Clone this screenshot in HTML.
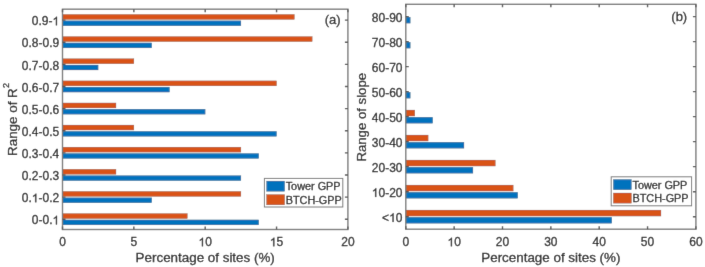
<!DOCTYPE html>
<html><head><meta charset="utf-8"><style>
html,body{margin:0;padding:0;background:#fff;}
svg{display:block;}
text{font-family:"Liberation Sans",sans-serif;fill:#262626;stroke:#262626;stroke-width:0.3px;}
.o1{fill-opacity:0;stroke-opacity:0;}
.g1{fill:#262626;stroke:#262626;stroke-width:0.3px;vector-effect:non-scaling-stroke;}
</style></head><body>
<svg width="705" height="267" viewBox="0 0 705 267">
<defs><filter id="bl" x="0" y="0" width="1" height="1"><feConvolveMatrix order="3" kernelMatrix="0.00524 0.06192 0.00524 0.06192 0.73137 0.06192 0.00524 0.06192 0.00524" edgeMode="duplicate"/></filter></defs>
<rect width="705" height="267" fill="#fff"/>
<g filter="url(#bl)">
<rect width="705" height="267" fill="#fff"/>
<rect x="62.5" y="213.55" width="124.86" height="5" fill="#D95319" stroke="#000" stroke-opacity="0.3" stroke-width="0.5"/>
<rect x="62.5" y="219.85" width="196.21" height="5" fill="#0072BD" stroke="#000" stroke-opacity="0.3" stroke-width="0.5"/>
<rect x="62.5" y="191.43" width="178.38" height="5" fill="#D95319" stroke="#000" stroke-opacity="0.3" stroke-width="0.5"/>
<rect x="62.5" y="197.73" width="89.19" height="5" fill="#0072BD" stroke="#000" stroke-opacity="0.3" stroke-width="0.5"/>
<rect x="62.5" y="169.31" width="53.51" height="5" fill="#D95319" stroke="#000" stroke-opacity="0.3" stroke-width="0.5"/>
<rect x="62.5" y="175.61" width="178.38" height="5" fill="#0072BD" stroke="#000" stroke-opacity="0.3" stroke-width="0.5"/>
<rect x="62.5" y="147.18" width="178.38" height="5" fill="#D95319" stroke="#000" stroke-opacity="0.3" stroke-width="0.5"/>
<rect x="62.5" y="153.48" width="196.21" height="5" fill="#0072BD" stroke="#000" stroke-opacity="0.3" stroke-width="0.5"/>
<rect x="62.5" y="125.06" width="71.35" height="5" fill="#D95319" stroke="#000" stroke-opacity="0.3" stroke-width="0.5"/>
<rect x="62.5" y="131.36" width="214.05" height="5" fill="#0072BD" stroke="#000" stroke-opacity="0.3" stroke-width="0.5"/>
<rect x="62.5" y="102.94" width="53.51" height="5" fill="#D95319" stroke="#000" stroke-opacity="0.3" stroke-width="0.5"/>
<rect x="62.5" y="109.24" width="142.7" height="5" fill="#0072BD" stroke="#000" stroke-opacity="0.3" stroke-width="0.5"/>
<rect x="62.5" y="80.82" width="214.05" height="5" fill="#D95319" stroke="#000" stroke-opacity="0.3" stroke-width="0.5"/>
<rect x="62.5" y="87.12" width="107.02" height="5" fill="#0072BD" stroke="#000" stroke-opacity="0.3" stroke-width="0.5"/>
<rect x="62.5" y="58.69" width="71.35" height="5" fill="#D95319" stroke="#000" stroke-opacity="0.3" stroke-width="0.5"/>
<rect x="62.5" y="64.99" width="35.67" height="5" fill="#0072BD" stroke="#000" stroke-opacity="0.3" stroke-width="0.5"/>
<rect x="62.5" y="36.57" width="249.72" height="5" fill="#D95319" stroke="#000" stroke-opacity="0.3" stroke-width="0.5"/>
<rect x="62.5" y="42.87" width="89.19" height="5" fill="#0072BD" stroke="#000" stroke-opacity="0.3" stroke-width="0.5"/>
<rect x="62.5" y="14.45" width="231.89" height="5" fill="#D95319" stroke="#000" stroke-opacity="0.3" stroke-width="0.5"/>
<rect x="62.5" y="20.75" width="178.38" height="5" fill="#0072BD" stroke="#000" stroke-opacity="0.3" stroke-width="0.5"/>
<g stroke="#7a7a7a" stroke-width="1.4" stroke-opacity="1" fill="none">
<rect x="62.5" y="9.2" width="285.4" height="220.3"/>
<path d="M62.5 229.5v-3M62.5 9.2v3M133.85 229.5v-3M133.85 9.2v3M205.2 229.5v-3M205.2 9.2v3M276.55 229.5v-3M276.55 9.2v3M347.9 229.5v-3M347.9 9.2v3M62.5 219.2h3M347.9 219.2h-3M62.5 197.08h3M347.9 197.08h-3M62.5 174.96h3M347.9 174.96h-3M62.5 152.83h3M347.9 152.83h-3M62.5 130.71h3M347.9 130.71h-3M62.5 108.59h3M347.9 108.59h-3M62.5 86.47h3M347.9 86.47h-3M62.5 64.34h3M347.9 64.34h-3M62.5 42.22h3M347.9 42.22h-3M62.5 20.1h3M347.9 20.1h-3" stroke="#555555"/>
</g>
<text x="62.5" y="246.3" text-anchor="middle" font-size="12.0">0</text>
<text x="133.85" y="246.3" text-anchor="middle" font-size="12.0">5</text>
<text x="205.2" y="246.3" text-anchor="middle" font-size="12.0"><tspan class="o1">1</tspan>0</text>
<text x="276.55" y="246.3" text-anchor="middle" font-size="12.0"><tspan class="o1">1</tspan>5</text>
<text x="347.9" y="246.3" text-anchor="middle" font-size="12.0">20</text>
<text x="59.2" y="224.4" text-anchor="end" font-size="12.0">0-0.<tspan class="o1">1</tspan></text>
<text x="59.2" y="202.28" text-anchor="end" font-size="12.0">0.<tspan class="o1">1</tspan>-0.2</text>
<text x="59.2" y="180.16" text-anchor="end" font-size="12.0">0.2-0.3</text>
<text x="59.2" y="158.03" text-anchor="end" font-size="12.0">0.3-0.4</text>
<text x="59.2" y="135.91" text-anchor="end" font-size="12.0">0.4-0.5</text>
<text x="59.2" y="113.79" text-anchor="end" font-size="12.0">0.5-0.6</text>
<text x="59.2" y="91.67" text-anchor="end" font-size="12.0">0.6-0.7</text>
<text x="59.2" y="69.54" text-anchor="end" font-size="12.0">0.7-0.8</text>
<text x="59.2" y="47.42" text-anchor="end" font-size="12.0">0.8-0.9</text>
<text x="59.2" y="25.3" text-anchor="end" font-size="12.0">0.9-<tspan class="o1">1</tspan></text>
<rect x="405.8" y="210.1" width="255.18" height="6" fill="#D95319" stroke="#000" stroke-opacity="0.3" stroke-width="0.5"/>
<rect x="405.8" y="217.3" width="205.94" height="6" fill="#0072BD" stroke="#000" stroke-opacity="0.3" stroke-width="0.5"/>
<rect x="405.8" y="185.09" width="107.44" height="6" fill="#D95319" stroke="#000" stroke-opacity="0.3" stroke-width="0.5"/>
<rect x="405.8" y="192.29" width="111.92" height="6" fill="#0072BD" stroke="#000" stroke-opacity="0.3" stroke-width="0.5"/>
<rect x="405.8" y="160.07" width="89.54" height="6" fill="#D95319" stroke="#000" stroke-opacity="0.3" stroke-width="0.5"/>
<rect x="405.8" y="167.27" width="67.15" height="6" fill="#0072BD" stroke="#000" stroke-opacity="0.3" stroke-width="0.5"/>
<rect x="405.8" y="135.06" width="22.38" height="6" fill="#D95319" stroke="#000" stroke-opacity="0.3" stroke-width="0.5"/>
<rect x="405.8" y="142.26" width="58.2" height="6" fill="#0072BD" stroke="#000" stroke-opacity="0.3" stroke-width="0.5"/>
<rect x="405.8" y="110.05" width="8.95" height="6" fill="#D95319" stroke="#000" stroke-opacity="0.3" stroke-width="0.5"/>
<rect x="405.8" y="117.25" width="26.86" height="6" fill="#0072BD" stroke="#000" stroke-opacity="0.3" stroke-width="0.5"/>
<rect x="405.8" y="92.24" width="4.48" height="6" fill="#0072BD" stroke="#000" stroke-opacity="0.3" stroke-width="0.5"/>
<rect x="405.8" y="42.21" width="4.48" height="6" fill="#0072BD" stroke="#000" stroke-opacity="0.3" stroke-width="0.5"/>
<rect x="405.8" y="17.2" width="4.48" height="6" fill="#0072BD" stroke="#000" stroke-opacity="0.3" stroke-width="0.5"/>
<g stroke="#7a7a7a" stroke-width="1.4" stroke-opacity="1" fill="none">
<rect x="405.8" y="4.3" width="290.1" height="224.9"/>
<path d="M405.8 229.2v-3M405.8 4.3v3M454.15 229.2v-3M454.15 4.3v3M502.5 229.2v-3M502.5 4.3v3M550.85 229.2v-3M550.85 4.3v3M599.2 229.2v-3M599.2 4.3v3M647.55 229.2v-3M647.55 4.3v3M695.9 229.2v-3M695.9 4.3v3M405.8 216.7h3M695.9 216.7h-3M405.8 191.69h3M695.9 191.69h-3M405.8 166.67h3M695.9 166.67h-3M405.8 141.66h3M695.9 141.66h-3M405.8 116.65h3M695.9 116.65h-3M405.8 91.64h3M695.9 91.64h-3M405.8 66.62h3M695.9 66.62h-3M405.8 41.61h3M695.9 41.61h-3M405.8 16.6h3M695.9 16.6h-3" stroke="#555555"/>
</g>
<text x="405.8" y="246.3" text-anchor="middle" font-size="12.0">0</text>
<text x="454.15" y="246.3" text-anchor="middle" font-size="12.0"><tspan class="o1">1</tspan>0</text>
<text x="502.5" y="246.3" text-anchor="middle" font-size="12.0">20</text>
<text x="550.85" y="246.3" text-anchor="middle" font-size="12.0">30</text>
<text x="599.2" y="246.3" text-anchor="middle" font-size="12.0">40</text>
<text x="647.55" y="246.3" text-anchor="middle" font-size="12.0">50</text>
<text x="695.9" y="246.3" text-anchor="middle" font-size="12.0">60</text>
<text x="402.5" y="221.9" text-anchor="end" font-size="12.0">&lt;<tspan class="o1">1</tspan>0</text>
<text x="402.5" y="196.89" text-anchor="end" font-size="12.0"><tspan class="o1">1</tspan>0-20</text>
<text x="402.5" y="171.87" text-anchor="end" font-size="12.0">20-30</text>
<text x="402.5" y="146.86" text-anchor="end" font-size="12.0">30-40</text>
<text x="402.5" y="121.85" text-anchor="end" font-size="12.0">40-50</text>
<text x="402.5" y="96.84" text-anchor="end" font-size="12.0">50-60</text>
<text x="402.5" y="71.83" text-anchor="end" font-size="12.0">60-70</text>
<text x="402.5" y="46.81" text-anchor="end" font-size="12.0">70-80</text>
<text x="402.5" y="21.8" text-anchor="end" font-size="12.0">80-90</text>
<text x="205.2" y="262.3" text-anchor="middle" font-size="13.4">Percentage of sites (%)</text>
<text x="550.85" y="262.3" text-anchor="middle" font-size="13.4">Percentage of sites (%)</text>
<text transform="translate(16.6 119.45) rotate(-90)" text-anchor="middle" font-size="13.4">Range of R<tspan dy="-7.7" dx="0.3" font-size="9">2</tspan></text>
<text transform="translate(366.3 117.25) rotate(-90)" text-anchor="middle" font-size="13.2">Range of slope</text>
<text x="340.6" y="24.3" text-anchor="end" font-size="13.0">(a)</text>
<text x="687.2" y="21" text-anchor="end" font-size="13.0">(b)</text>
<rect x="264.4" y="178.4" width="78.4" height="28.6" fill="#fff" stroke="#7a7a7a" stroke-opacity="1" stroke-width="1"/>
<rect x="266.6" y="181.1" width="18" height="10.2" fill="#0072BD" stroke="#000" stroke-opacity="0.35" stroke-width="0.5"/>
<rect x="266.6" y="194.6" width="18" height="10.2" fill="#D95319" stroke="#000" stroke-opacity="0.35" stroke-width="0.5"/>
<text x="285.7" y="190.3" font-size="10.85">Tower GPP</text>
<text x="285.7" y="203.9" font-size="10.85">BTCH-GPP</text>
<rect x="611.2" y="176.8" width="80.4" height="29" fill="#fff" stroke="#7a7a7a" stroke-opacity="1" stroke-width="1"/>
<rect x="613.4" y="179.5" width="18" height="10.2" fill="#0072BD" stroke="#000" stroke-opacity="0.35" stroke-width="0.5"/>
<rect x="613.4" y="193" width="18" height="10.2" fill="#D95319" stroke="#000" stroke-opacity="0.35" stroke-width="0.5"/>
<text x="632.5" y="188.7" font-size="10.85">Tower GPP</text>
<text x="632.5" y="202.3" font-size="10.85">BTCH-GPP</text>
<path class="g1" d="M763 0L583 0L583 1147Q518 1085 465 1054Q412 1023 359 992Q306 961 222 930L222 1104Q373 1175 429.5 1225.5Q486 1276 542.5 1326.5Q599 1377 646 1472L763 1472Z" transform="translate(198.51 246.30) scale(0.005859 -0.005859)"/>
<path class="g1" d="M763 0L583 0L583 1147Q518 1085 465 1054Q412 1023 359 992Q306 961 222 930L222 1104Q373 1175 429.5 1225.5Q486 1276 542.5 1326.5Q599 1377 646 1472L763 1472Z" transform="translate(269.86 246.30) scale(0.005859 -0.005859)"/>
<path class="g1" d="M763 0L583 0L583 1147Q518 1085 465 1054Q412 1023 359 992Q306 961 222 930L222 1104Q373 1175 429.5 1225.5Q486 1276 542.5 1326.5Q599 1377 646 1472L763 1472Z" transform="translate(52.51 224.40) scale(0.005859 -0.005859)"/>
<path class="g1" d="M763 0L583 0L583 1147Q518 1085 465 1054Q412 1023 359 992Q306 961 222 930L222 1104Q373 1175 429.5 1225.5Q486 1276 542.5 1326.5Q599 1377 646 1472L763 1472Z" transform="translate(31.83 202.28) scale(0.005859 -0.005859)"/>
<path class="g1" d="M763 0L583 0L583 1147Q518 1085 465 1054Q412 1023 359 992Q306 961 222 930L222 1104Q373 1175 429.5 1225.5Q486 1276 542.5 1326.5Q599 1377 646 1472L763 1472Z" transform="translate(52.51 25.30) scale(0.005859 -0.005859)"/>
<path class="g1" d="M763 0L583 0L583 1147Q518 1085 465 1054Q412 1023 359 992Q306 961 222 930L222 1104Q373 1175 429.5 1225.5Q486 1276 542.5 1326.5Q599 1377 646 1472L763 1472Z" transform="translate(447.46 246.30) scale(0.005859 -0.005859)"/>
<path class="g1" d="M763 0L583 0L583 1147Q518 1085 465 1054Q412 1023 359 992Q306 961 222 930L222 1104Q373 1175 429.5 1225.5Q486 1276 542.5 1326.5Q599 1377 646 1472L763 1472Z" transform="translate(389.12 221.90) scale(0.005859 -0.005859)"/>
<path class="g1" d="M763 0L583 0L583 1147Q518 1085 465 1054Q412 1023 359 992Q306 961 222 930L222 1104Q373 1175 429.5 1225.5Q486 1276 542.5 1326.5Q599 1377 646 1472L763 1472Z" transform="translate(371.78 196.89) scale(0.005859 -0.005859)"/>
</g>
</svg>
</body></html>
